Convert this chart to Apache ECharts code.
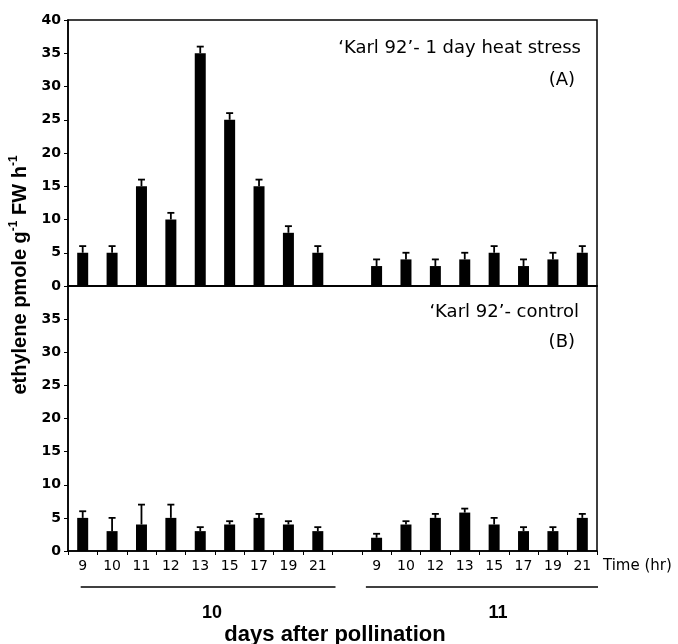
<!DOCTYPE html>
<html lang="en">
<head>
    <meta charset="UTF-8">
    <title>ethylene</title>
    <script src="https://cdn.jsdelivr.net/npm/echarts@6/dist/echarts.min.js"></script>
    <style>
        html, body { margin: 0; padding: 0; background: #fff; }
        #main { width: 678px; height: 644px; }
    </style>
</head>
<body>
<div id="main"></div>
<script type="text/javascript">
    // hours sampled on each day after pollination
    var day10Hours = ['9', '10', '11', '12', '13', '15', '17', '19', '21'];
    var day11Hours = ['9', '10', '12', '13', '15', '17', '19', '21'];
    var yTicks = [0, 5, 10, 15, 20, 25, 30, 35, 40];

    // (A) 1 day heat stress
    var heat10 = [5, 5, 15, 10, 35, 25, 15, 8, 5];
    var heat10Err = [1, 1, 1, 1, 1, 1, 1, 1, 1];
    var heat11 = [3, 4, 3, 4, 5, 3, 4, 5];
    var heat11Err = [1, 1, 1, 1, 1, 1, 1, 1];

    // (B) control
    var ctrl10 = [5, 3, 4, 5, 3, 4, 5, 4, 3];
    var ctrl10Err = [1, 2, 3, 2, 0.6, 0.5, 0.6, 0.5, 0.6];
    var ctrl11 = [2, 4, 5, 5.8, 4, 3, 3, 5];
    var ctrl11Err = [0.6, 0.5, 0.6, 0.6, 1, 0.6, 0.6, 0.6];

    // one empty slot between the two days
    var categories = day10Hours.map(function (h) { return '10/' + h; })
        .concat(['gap'])
        .concat(day11Hours.map(function (h) { return '11/' + h; }));

    function join(a, b) {
        return a.concat(['-']).concat(b);
    }
    function errData(m, e) {
        var out = [];
        for (var i = 0; i < m.length; i++) {
            if (m[i] === '-') continue;
            out.push([i, m[i], m[i] + e[i]]);
        }
        return out;
    }

    var heatMeans = join(heat10, heat11);
    var heatErrs = join(heat10Err, heat11Err);
    var ctrlMeans = join(ctrl10, ctrl11);
    var ctrlErrs = join(ctrl10Err, ctrl11Err);

    function renderErr(params, api) {
        var x = api.value(0);
        var p0 = api.coord([x, api.value(1)]);
        var p1 = api.coord([x, api.value(2)]);
        var st = { stroke: '#000', lineWidth: 1.8 };
        return {
            type: 'group',
            children: [
                { type: 'line', shape: { x1: p0[0], y1: p0[1], x2: p1[0], y2: p1[1] }, style: st },
                { type: 'line', shape: { x1: p1[0] - 3.5, y1: p1[1], x2: p1[0] + 3.5, y2: p1[1] }, style: st }
            ]
        };
    }

    var lineStyle = { color: '#000', width: 1.5 };

    function yAxis(idx, hideTop) {
        return {
            type: 'value', gridIndex: idx, min: 0, max: 40, interval: 5,
            splitLine: { show: false },
            axisLine: { show: true, lineStyle: lineStyle },
            axisTick: { show: true, inside: false, length: 4, lineStyle: { color: '#000', width: 1 } },
            axisLabel: {
                margin: 7, color: '#000', fontFamily: 'DejaVu Sans',
                fontWeight: 'bold', fontSize: 14,
                formatter: function (v) {
                    if (hideTop && v === 40) return '';
                    return yTicks.indexOf(v) >= 0 ? String(v) : '';
                }
            }
        };
    }

    var myChart = echarts.init(document.getElementById('main'));

    var option = {
        animation: false,
        backgroundColor: '#fff',
        grid: [
            { left: 68, top: 20, width: 529, height: 266, show: true, borderColor: '#000', borderWidth: 1.5, backgroundColor: 'transparent' },
            { left: 68, top: 286, width: 529, height: 265, show: true, borderColor: '#000', borderWidth: 1.5, backgroundColor: 'transparent' }
        ],
        xAxis: [
            {
                type: 'category', gridIndex: 0, data: categories,
                axisLine: { show: true, lineStyle: lineStyle },
                axisTick: { show: false },
                axisLabel: { show: false }
            },
            {
                type: 'category', gridIndex: 1, data: categories,
                axisLine: { show: true, lineStyle: lineStyle },
                axisTick: { show: true, inside: false, length: 4, interval: 0, lineStyle: { color: '#000', width: 1 } },
                axisLabel: {
                    interval: 0, margin: 8, color: '#000', fontFamily: 'DejaVu Sans',
                    fontWeight: 'normal', fontSize: 14,
                    formatter: function (v) {
                        return v === 'gap' ? '' : v.split('/')[1];
                    }
                }
            }
        ],
        yAxis: [yAxis(0, false), yAxis(1, true)],
        series: [
            {
                type: 'bar', xAxisIndex: 0, yAxisIndex: 0, data: heatMeans,
                barWidth: 11, itemStyle: { color: '#000' }
            },
            {
                type: 'custom', xAxisIndex: 0, yAxisIndex: 0, renderItem: renderErr,
                encode: { x: 0, y: [1, 2] }, data: errData(heatMeans, heatErrs), z: 3
            },
            {
                type: 'bar', xAxisIndex: 1, yAxisIndex: 1, data: ctrlMeans,
                barWidth: 11, itemStyle: { color: '#000' }
            },
            {
                type: 'custom', xAxisIndex: 1, yAxisIndex: 1, renderItem: renderErr,
                encode: { x: 0, y: [1, 2] }, data: errData(ctrlMeans, ctrlErrs), z: 3
            }
        ]
    };
    myChart.setOption(option);

    // brackets under the hour labels, placed from the axis itself
    var bw = 529 / categories.length;
    var c0 = myChart.convertToPixel({ xAxisIndex: 1 }, categories[0]);
    var c8 = myChart.convertToPixel({ xAxisIndex: 1 }, categories[8]);
    var c10 = myChart.convertToPixel({ xAxisIndex: 1 }, categories[10]);
    var c17 = myChart.convertToPixel({ xAxisIndex: 1 }, categories[17]);
    var lineY = 587;

    var labelText = function (txt, x, y, size, family, weight, align) {
        return {
            type: 'text', x: x, y: y,
            style: {
                text: txt, fill: '#000', fontSize: size, fontFamily: family, fontWeight: weight,
                align: align || 'center', verticalAlign: 'middle'
            }
        };
    };

    myChart.setOption({
        graphic: [
            { type: 'line', shape: { x1: c0 - 2, y1: lineY, x2: c8 + bw / 2 + 3, y2: lineY }, style: { stroke: '#000', lineWidth: 1.5 } },
            { type: 'line', shape: { x1: c10 - bw / 2 + 4, y1: lineY, x2: c17 + bw / 2 + 1, y2: lineY }, style: { stroke: '#000', lineWidth: 1.5 } },
            labelText('10', 212, 613, 18, 'Liberation Sans', 'bold'),
            labelText('11', 498, 613, 18, 'Liberation Sans', 'bold'),
            labelText('days after pollination', 335, 635, 22, 'Liberation Sans', 'bold'),
            labelText('Time (hr)', 603, 566, 15, 'DejaVu Sans', 'normal', 'left'),
            labelText('\u2018Karl 92\u2019- 1 day heat stress', 581, 48, 18, 'DejaVu Sans', 'normal', 'right'),
            labelText('(A)', 575, 80, 18, 'DejaVu Sans', 'normal', 'right'),
            labelText('\u2018Karl 92\u2019- control', 579, 312, 18, 'DejaVu Sans', 'normal', 'right'),
            labelText('(B)', 575, 342, 18, 'DejaVu Sans', 'normal', 'right'),
            {
                type: 'text', x: 19, y: 275, rotation: Math.PI / 2,
                style: {
                    text: '{b|ethylene pmole g}{s|-1}{b| FW h}{s|-1}',
                    align: 'center', verticalAlign: 'middle',
                    rich: {
                        b: { fontSize: 20, fontFamily: 'Liberation Sans', fontWeight: 'bold', fill: '#000', lineHeight: 22, verticalAlign: 'bottom' },
                        s: { fontSize: 12, fontFamily: 'Liberation Sans', fontWeight: 'bold', fill: '#000', lineHeight: 22, verticalAlign: 'top' }
                    }
                }
            }
        ]
    });
</script>
</body>
</html>
